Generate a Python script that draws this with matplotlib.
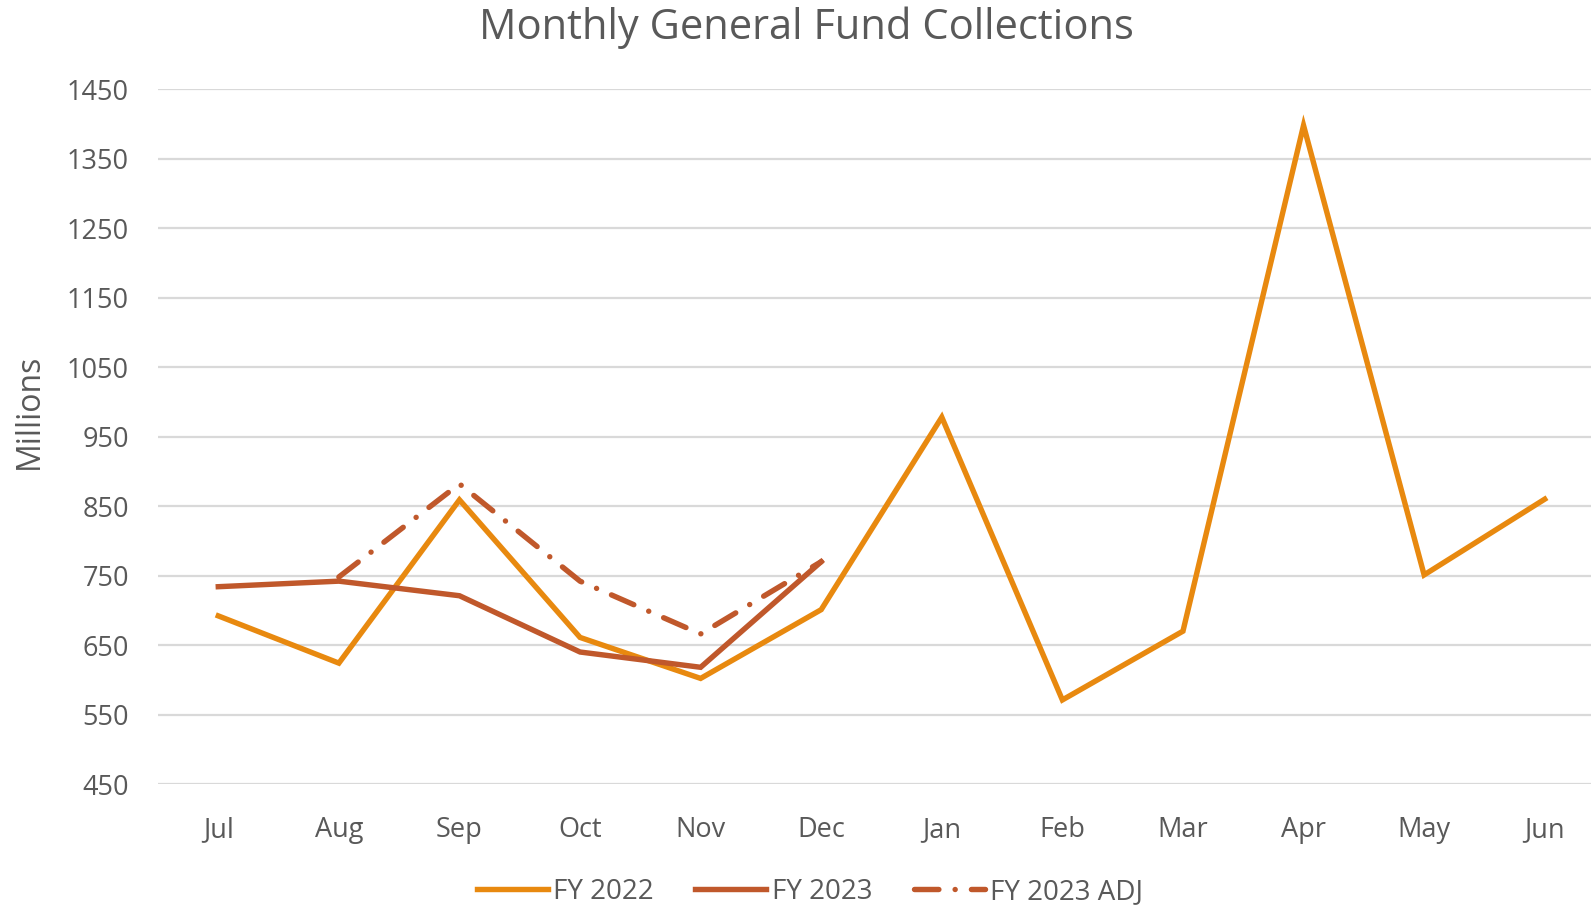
import matplotlib
matplotlib.use("Agg")
import matplotlib.pyplot as plt
import numpy as np

months = ["Jul", "Aug", "Sep", "Oct", "Nov", "Dec", "Jan", "Feb", "Mar", "Apr", "May", "Jun"]
fy2022 = [692, 624, 859, 661, 602, 701, 978, 571, 670, 1398, 751, 860]
fy2023 = [734, 742, 721, 640, 618, 770]
fy2023_adj_months = ["Aug", "Sep", "Oct", "Nov", "Dec"]
fy2023_adj = [748, 882, 742, 666, 770]
yticks = [450, 550, 650, 750, 850, 950, 1050, 1150, 1250, 1350, 1450]

plt.rcParams['font.family'] = ['Open Sans', 'DejaVu Sans']
TXT = '#595959'
C22 = '#E8890F'
C23 = '#C0582B'

W, H = 1591, 905
fig = plt.figure(figsize=(W / 100, H / 100), dpi=100)
left, right = 158, 1605
top, bottom = 89.3, 784
ax = fig.add_axes([left / W, (H - bottom) / H, (right - left) / W, (bottom - top) / H])

x = np.arange(len(months))
idx = {m: i for i, m in enumerate(months)}
lw = 3.9
ax.plot(x, fy2022, color=C22, lw=lw, solid_joinstyle='miter', label='FY 2022', zorder=3)
ax.plot(x[:len(fy2023)], fy2023, color=C23, lw=lw, solid_joinstyle='miter', label='FY 2023', zorder=4)
adj_x = [idx[m] for m in fy2023_adj_months]
ax.plot(adj_x, fy2023_adj, color=C23, lw=lw, dashes=(4.5, 3.0, 0.01, 3.0), dash_capstyle='round',
        solid_capstyle='round', label='FY 2023 ADJ', zorder=4)

ax.set_xlim(-0.5, len(months) - 0.5)
ax.set_ylim(450, 1450)
ax.set_yticks(yticks)
ax.set_yticklabels([str(v) for v in yticks])
ax.set_xticks(x)
ax.set_xticklabels(months)
ax.tick_params(axis='both', length=0, labelsize=19.5, colors=TXT)
ax.tick_params(axis='y', pad=21)
ax.tick_params(axis='x', pad=23)
ax.grid(axis='y', color='#D9D9D9', lw=1.6, zorder=0)
for s in ax.spines.values():
    s.set_visible(False)

fig.text(29 / W, 1 - 411 / H, 'Millions', rotation=90, ha='center', va='center', fontsize=23, color=TXT)
fig.text(806 / W, 1 - 28 / H, 'Monthly General Fund Collections', ha='center', va='center', fontsize=30, color=TXT)

leg = fig.legend(loc='center', bbox_to_anchor=(810 / W, 1 - 892 / H), ncol=3, frameon=False,
                 fontsize=20, handlelength=2.55, handletextpad=0.2, columnspacing=1.5,
                 labelcolor=TXT, borderaxespad=0, borderpad=0)

fig.savefig('out.png', dpi=100)
